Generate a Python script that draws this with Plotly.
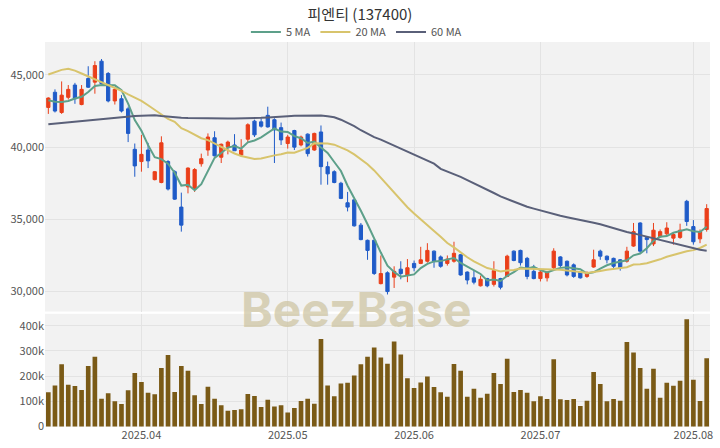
import pandas as pd
import plotly.graph_objects as go

# ---- data ----
holidays = ["2025-05-01", "2025-05-05", "2025-05-06", "2025-06-03", "2025-06-06"]
dates = [d.strftime("%Y-%m-%d") for d in pd.bdate_range("2025-03-12", "2025-08-05")
         if d.strftime("%Y-%m-%d") not in holidays]

open_ = [42750, 43800, 42400, 43450, 44300, 42950, 44750, 44500, 45950, 45100,
         43200, 43350, 42650, 39850, 39000, 39800, 37750, 37550, 39000, 38300,
         35850, 37250, 37100, 38850, 39800, 40650, 39300, 40000, 40150, 39450,
         40550, 41800, 41750, 42200, 41900, 41350, 40250, 41150, 40150, 40900,
         39800, 41050, 38650, 38300, 37500, 36150, 36350, 34600, 33550, 33550,
         30550, 31300, 31000, 31550, 31150, 31950, 31950, 32100, 32800, 32400,
         31950, 32100, 32550, 31350, 30950, 30400, 30900, 30500, 30900, 31050,
         32800, 32850, 32300, 31400, 30900, 30950, 31650, 32400, 32100, 31850,
         31350, 31050, 31700, 32800, 32450, 32300, 32200, 32100, 33150, 34750,
         33750, 33300, 33800, 34000, 33700, 33750, 36250, 34500, 33650, 34300]
high = [43450, 44000, 44550, 44300, 44450, 44300, 45600, 45950, 46100, 45200,
        44150, 43600, 42800, 40250, 40850, 40300, 38350, 40750, 39100, 38400,
        36850, 38600, 38550, 39550, 40950, 41100, 40250, 40450, 40900, 40550,
        41650, 41900, 42000, 42800, 42000, 41700, 40850, 41200, 40800, 40950,
        41000, 41500, 39000, 38400, 37600, 36900, 36400, 34750, 33600, 33600,
        32500, 31400, 31750, 32100, 32250, 32150, 33100, 33350, 32850, 32500,
        32500, 33450, 32600, 31400, 31500, 31100, 30950, 32100, 30950, 32550,
        32850, 32900, 32400, 31850, 31550, 31400, 33000, 32450, 32150, 31950,
        31400, 31400, 32900, 32900, 32500, 32350, 32250, 33100, 34750, 34800,
        33800, 34750, 34300, 34800, 34100, 34700, 36350, 34950, 34300, 36050]
low = [42300, 42400, 42300, 43300, 43000, 42900, 44100, 43700, 44350, 43100,
       42950, 42400, 40350, 37950, 38300, 38550, 37700, 37500, 37000, 36350,
       34150, 36800, 36900, 38650, 39400, 39350, 38900, 39500, 39750, 39350,
       40350, 40700, 41350, 41350, 38900, 40150, 39900, 39800, 40050, 39350,
       39750, 37400, 37400, 37500, 36400, 35550, 34500, 33550, 32200, 31150,
       30500, 29800, 30250, 30850, 30650, 31400, 31900, 32000, 31650, 31650,
       31800, 32000, 31100, 30500, 30500, 30350, 30300, 30350, 30150, 31000,
       32100, 31800, 30850, 30850, 30700, 30700, 31500, 31700, 31050, 30950,
       30900, 30950, 31650, 32200, 31950, 31550, 31450, 32000, 33100, 32650,
       32650, 33150, 33750, 33850, 33250, 33650, 34550, 33250, 33350, 34150]
close = [43400, 42500, 43600, 44000, 43350, 44000, 44150, 45650, 44400, 43200,
         44000, 42500, 40950, 38700, 39500, 39050, 38300, 40300, 37100, 36400,
         34600, 38550, 38450, 39200, 40700, 39400, 40200, 40350, 39750, 39800,
         41550, 40850, 41450, 41400, 41200, 40500, 40700, 40000, 40700, 39550,
         40950, 38650, 38150, 37550, 36450, 35850, 34550, 33600, 32850, 31250,
         31250, 30000, 31400, 31250, 31650, 31650, 32200, 32850, 32100, 31750,
         32250, 32650, 31150, 30800, 30650, 30850, 30400, 31450, 30300, 32450,
         32150, 32000, 31050, 30900, 31350, 31350, 32800, 31800, 31150, 31050,
         30950, 31300, 32200, 32450, 32200, 31750, 31650, 32800, 34150, 32800,
         33600, 34250, 34150, 34400, 33950, 34250, 34850, 33450, 34150, 35750]
volume_k = [136, 163, 247, 166, 161, 145, 240, 277, 110, 132,
            100, 89, 144, 212, 177, 134, 128, 232, 284, 137,
            240, 221, 124, 89, 158, 110, 84, 62, 65, 68,
            129, 121, 77, 106, 79, 84, 56, 73, 101, 110,
            90, 347, 163, 120, 171, 174, 202, 247, 277, 313,
            274, 249, 337, 286, 191, 153, 175, 198, 157, 136,
            118, 248, 221, 118, 150, 114, 130, 212, 169, 269,
            137, 145, 134, 100, 120, 109, 267, 108, 105, 109,
            81, 102, 216, 169, 100, 109, 102, 335, 294, 232,
            150, 229, 114, 174, 162, 181, 425, 185, 101, 271]

# moving-average values before enough visible closes exist
ma5_head = [43240, 43150, 43130, 43200]
ma20_head = [45030, 45200, 45350, 45430, 45300, 45100, 44900, 44740, 44550, 44350,
             44150, 43900, 43650, 43450, 43200, 42900, 42600, 42250, 41950]
ma60_head = [41590, 41635, 41680, 41725, 41770, 41820, 41860, 41930, 41970, 42010,
             42055, 42100, 42140, 42160, 42180, 42200, 42207, 42150, 42100, 42070,
             42035, 42015, 42000, 41985, 41975, 41965, 41965, 41975, 41975, 41980,
             41980, 42000, 42030, 42060, 42100, 42125, 42145, 42165, 42180, 42190,
             42205, 42190, 42140, 42070, 41900, 41690, 41450, 41170, 40900, 40690,
             40520, 40310, 40100, 39900, 39690, 39480, 39280, 39070, 38860]

month_ticks = ["2025-04-01", "2025-05-02", "2025-06-02", "2025-07-01", "2025-08-01"]
month_text = ["2025.04", "2025.05", "2025.06", "2025.07", "2025.08"]

# ---- derived series ----
cs = pd.Series(close, dtype=float)
ma5 = cs.rolling(5).mean().tolist()
ma20 = cs.rolling(20).mean().tolist()
ma60 = cs.rolling(60).mean().tolist()
ma5[:len(ma5_head)] = ma5_head
ma20[:len(ma20_head)] = ma20_head
ma60[:len(ma60_head)] = ma60_head
volume = [v * 1000 for v in volume_k]

UP = "#EA3F1A"
DOWN = "#1F5BC8"
FONT = "Noto Sans CJK KR, Noto Sans, sans-serif"

fig = go.Figure()
fig.add_trace(go.Candlestick(
    x=dates, open=open_, high=high, low=low, close=close,
    increasing=dict(line=dict(color=UP, width=1), fillcolor=UP),
    decreasing=dict(line=dict(color=DOWN, width=1), fillcolor=DOWN),
    showlegend=False, xaxis="x", yaxis="y"))
fig.add_trace(go.Scatter(x=dates, y=ma5, mode="lines", name="5 MA",
                         line=dict(color="#5DA08A", width=2), xaxis="x", yaxis="y"))
fig.add_trace(go.Scatter(x=dates, y=ma20, mode="lines", name="20 MA",
                         line=dict(color="#D8C46C", width=2), xaxis="x", yaxis="y"))
fig.add_trace(go.Scatter(x=dates, y=ma60, mode="lines", name="60 MA",
                         line=dict(color="#5A6079", width=2), xaxis="x", yaxis="y"))
fig.add_trace(go.Bar(x=dates, y=volume, marker=dict(color="#7A5A16", line=dict(width=0)),
                     showlegend=False, xaxis="x2", yaxis="y2"))

BG = "#F2F2F2"
GRID = "#E3E3E3"
fig.update_layout(
    width=720, height=448,
    margin=dict(l=45, r=10, t=42, b=21, autoexpand=False),
    paper_bgcolor="white", plot_bgcolor=BG,
    font=dict(family=FONT, size=11, color="#555"),
    title=dict(text="피엔티 (137400)", x=0.5, xref="container", xanchor="center",
               y=1 - 15 / 448, yref="container", yanchor="middle",
               font=dict(family=FONT, size=15, color="#333")),
    legend=dict(orientation="h", x=0.495, xref="container", xanchor="center",
                y=1 - 32 / 448, yref="container", yanchor="middle",
                font=dict(size=11, color="#555"), bgcolor="rgba(0,0,0,0)",
                itemwidth=30, tracegroupgap=0),
    bargap=0.3,
    boxgap=0.3,
    xaxis=dict(type="category", domain=[0, 1], anchor="y", range=[-0.5, len(dates) - 0.5],
               rangeslider=dict(visible=False), showticklabels=False, automargin=False,
               tickvals=month_ticks, showgrid=True, gridcolor=GRID, ticks="", zeroline=False),
    yaxis=dict(domain=[0.300, 1], range=[28620, 47280], tickvals=[30000, 35000, 40000, 45000],
               tickformat=",", showgrid=True, gridcolor=GRID, ticks="", zeroline=False,
               automargin=False),
    xaxis2=dict(type="category", domain=[0, 1], anchor="y2", matches="x", automargin=False,
                tickvals=month_ticks, ticktext=month_text, showgrid=True, gridcolor=GRID,
                ticks="", tickfont=dict(size=11, color="#555")),
    yaxis2=dict(domain=[0, 0.294], range=[-2000, 447000], automargin=False,
                tickvals=[0, 100000, 200000, 300000, 400000], tickformat="~s",
                showgrid=True, gridcolor=GRID, ticks="", zeroline=False),
    annotations=[dict(text="<b>BeezBase</b>", xref="paper", yref="paper", x=0.468, y=0.305,
                      xanchor="center", yanchor="middle", showarrow=False,
                      font=dict(family="Inter, Lato, sans-serif", size=48,
                                color="rgba(205,196,160,0.72)"))],
)

fig.write_html("out.html", config={"displayModeBar": False},
               post_script="document.body.style.margin='0';document.body.style.overflow='hidden';")
